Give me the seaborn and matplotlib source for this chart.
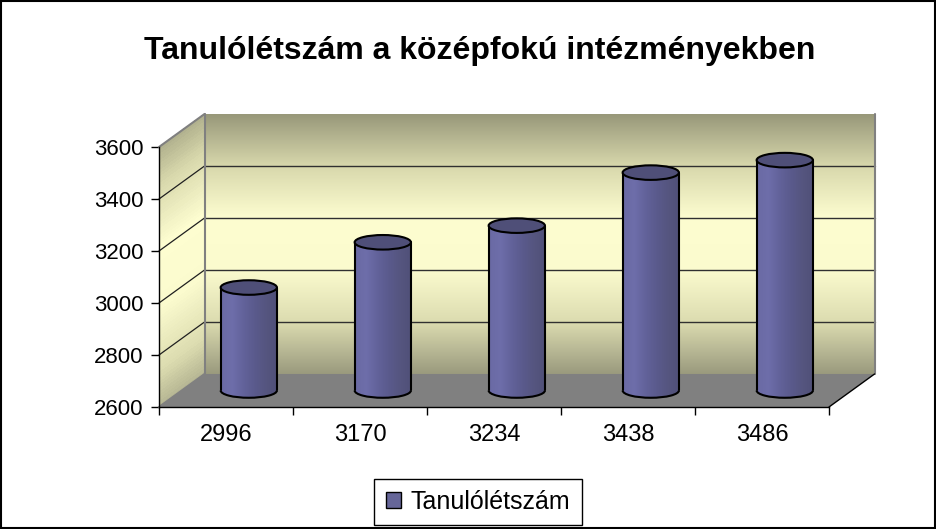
import numpy as np
import pandas as pd
import matplotlib
matplotlib.use('Agg')
import matplotlib.pyplot as plt
import matplotlib.patches as mpatches
from matplotlib.colors import LinearSegmentedColormap
import seaborn as sns

# ── ADATOK ──
cimkek = ['2996', '3170', '3234', '3438', '3486']
letszam = [2996, 3170, 3234, 3438, 3486]
sorozat = 'Tanulólétszám'
cim = 'Tanulólétszám a középfokú intézményekben'
y_min, y_max, y_lepes = 2600, 3600, 200

# ── 3D hatás (mélység adategységben) ──
DX, DY = 0.34, 127
ELL_H = 56           # henger teteje (ellipszis magassága)
BAR_W = 0.42

sns.set_style('white')
plt.rcParams['font.family'] = ['Liberation Sans', 'DejaVu Sans']
plt.rcParams['text.color'] = 'black'
plt.rcParams['xtick.color'] = 'black'
plt.rcParams['ytick.color'] = 'black'

fal_cmap = LinearSegmentedColormap.from_list(
    'fal', ['#98987a', '#d8d8ac', '#fdfdd0', '#fbfbce', '#dcdcb0', '#9a9a7e'])
henger_cmap = LinearSegmentedColormap.from_list(
    'henger', ['#6a6aa4', '#6e6eaa', '#62629a', '#5a5a8c', '#55557f', '#505078'])

fig = plt.figure(figsize=(9.37, 5.29), dpi=100)
ax = fig.add_axes([159 / 937, 122 / 529, 670 / 937, 260 / 529])

df = pd.DataFrame({'ev': cimkek, 'letszam': letszam})
sns.barplot(data=df, x='ev', y='letszam', width=BAR_W, color='#666699',
            edgecolor='none', ax=ax, zorder=5)

x0, x1 = -0.5, len(cimkek) - 0.5
grad = np.linspace(0, 1, 256).reshape(-1, 1)

# hátfal
ax.imshow(grad, cmap=fal_cmap, aspect='auto', zorder=1, clip_on=False,
          extent=(x0 + DX, x1 + DX, y_min + DY, y_max + DY))
# oldalfal (sávokból, hogy a színátmenet kövesse a falat)
n_sav = 80
hatarok = np.linspace(y_min, y_max, n_sav + 1)
for i in range(n_sav):
    a, b = hatarok[i], hatarok[i + 1]
    t = 1 - (i + 0.5) / n_sav
    ax.add_patch(mpatches.Polygon([(x0, a), (x0 + DX, a + DY), (x0 + DX, b + DY), (x0, b)],
                                  closed=True, facecolor=fal_cmap(0.08 + 0.84 * t), edgecolor='none',
                                  lw=0, antialiased=False, zorder=1, clip_on=False))
# padló
ax.add_patch(mpatches.Polygon([(x0, y_min), (x1, y_min), (x1 + DX, y_min + DY), (x0 + DX, y_min + DY)],
                              closed=True, facecolor='#808080', edgecolor='none', zorder=1.5, clip_on=False))

# rácsvonalak
for v in range(y_min + y_lepes, y_max, y_lepes):
    ax.plot([x0 + DX, x1 + DX], [v + DY, v + DY], color='#303030', lw=1, zorder=2, clip_on=False)
    ax.plot([x0, x0 + DX], [v, v + DY], color='#202020', lw=0.9, zorder=2, clip_on=False)

# szürke élek
szurke = '#808080'
ax.plot([x0 + DX, x0 + DX], [y_min + DY, y_max + DY], color=szurke, lw=1.5, zorder=2, clip_on=False)
ax.plot([x1 + DX, x1 + DX], [y_min + DY, y_max + DY], color=szurke, lw=1.5, zorder=2, clip_on=False)
ax.plot([x0, x0 + DX], [y_max, y_max + DY], color=szurke, lw=1.5, zorder=2, clip_on=False)
ax.plot([x0, x0 + DX], [y_min, y_min + DY], color=szurke, lw=1.5, zorder=2, clip_on=False)
ax.plot([x1, x1 + DX], [y_min, y_min + DY], color='black', lw=1, zorder=2, clip_on=False)

# hengerek
for bar in ax.containers[0]:
    bx, bw, bh = bar.get_x(), bar.get_width(), bar.get_height()
    bar.set_x(bx + DX / 2)
    bar.set_y(y_min + DY / 2)
    bar.set_height(bh - y_min)
    bar.set_clip_on(False)
    cx = bx + DX / 2 + bw / 2
    alj, tet = y_min + DY / 2, bh + DY / 2
    ext = (bx + DX / 2, bx + DX / 2 + bw, alj - ELL_H / 2, tet)
    also = mpatches.Ellipse((cx, alj), bw, ELL_H, facecolor='none', edgecolor='none')
    ax.add_patch(also)
    for clip in (bar, also):
        im = ax.imshow(grad.T, cmap=henger_cmap, aspect='auto', zorder=6, extent=ext)
        im.set_clip_path(clip)
    ax.add_patch(mpatches.Arc((cx, alj), bw, ELL_H, theta1=180, theta2=360,
                              color='black', lw=1.5, zorder=7, clip_on=False))
    ax.plot([bx + DX / 2] * 2, [alj, tet], color='black', lw=1.5, zorder=7, clip_on=False)
    ax.plot([bx + DX / 2 + bw] * 2, [alj, tet], color='black', lw=1.5, zorder=7, clip_on=False)
    ax.add_patch(mpatches.Ellipse((cx, tet), bw, ELL_H, facecolor='#4f4f78',
                                  edgecolor='black', lw=1.5, zorder=8, clip_on=False))

# tengelyek
ax.set_xlim(x0, x1)
ax.set_ylim(y_min, y_max)
ax.set_facecolor('none')
for s in ['top', 'right']:
    ax.spines[s].set_visible(False)
for s in ['left', 'bottom']:
    ax.spines[s].set_color('black')
    ax.spines[s].set_linewidth(1)
    ax.spines[s].set_zorder(9)
ax.set_yticks(range(y_min, y_max + 1, y_lepes))
ax.set_xticks(range(len(cimkek)))
ax.set_xticklabels(cimkek)
ax.set_xticks(np.arange(x0, x1 + 0.01, 1), minor=True)
ax.tick_params(axis='y', which='major', direction='out', length=6, width=1,
               color='black', labelcolor='black', labelsize=16, pad=5, left=True)
ax.tick_params(axis='x', which='major', length=0, labelcolor='black', labelsize=17, pad=12)
ax.tick_params(axis='x', which='minor', direction='out', length=6, width=1,
               color='black', bottom=True)
ax.set_xlabel('')
ax.set_ylabel('')
ax.grid(False)

fig.text(480 / 937, 1 - 51 / 529, cim, ha='center', va='center', fontsize=23,
         fontweight='bold', color='black')

leg = fig.legend(handles=[mpatches.Patch(facecolor='#666699', edgecolor='black', label=sorozat)],
                 loc='center', bbox_to_anchor=(478 / 937, 27 / 529), frameon=True, fancybox=False,
                 edgecolor='black', framealpha=1, fontsize=18, handlelength=0.6, handleheight=0.6,
                 handletextpad=0.4, borderpad=0.45, labelcolor='black')
leg.get_frame().set_linewidth(1)

fig.patches.append(mpatches.Rectangle((0.001, 0.002), 0.997, 0.996, transform=fig.transFigure,
                                      fill=False, edgecolor='black', lw=1.5))

fig.savefig('out.png', dpi=100)
